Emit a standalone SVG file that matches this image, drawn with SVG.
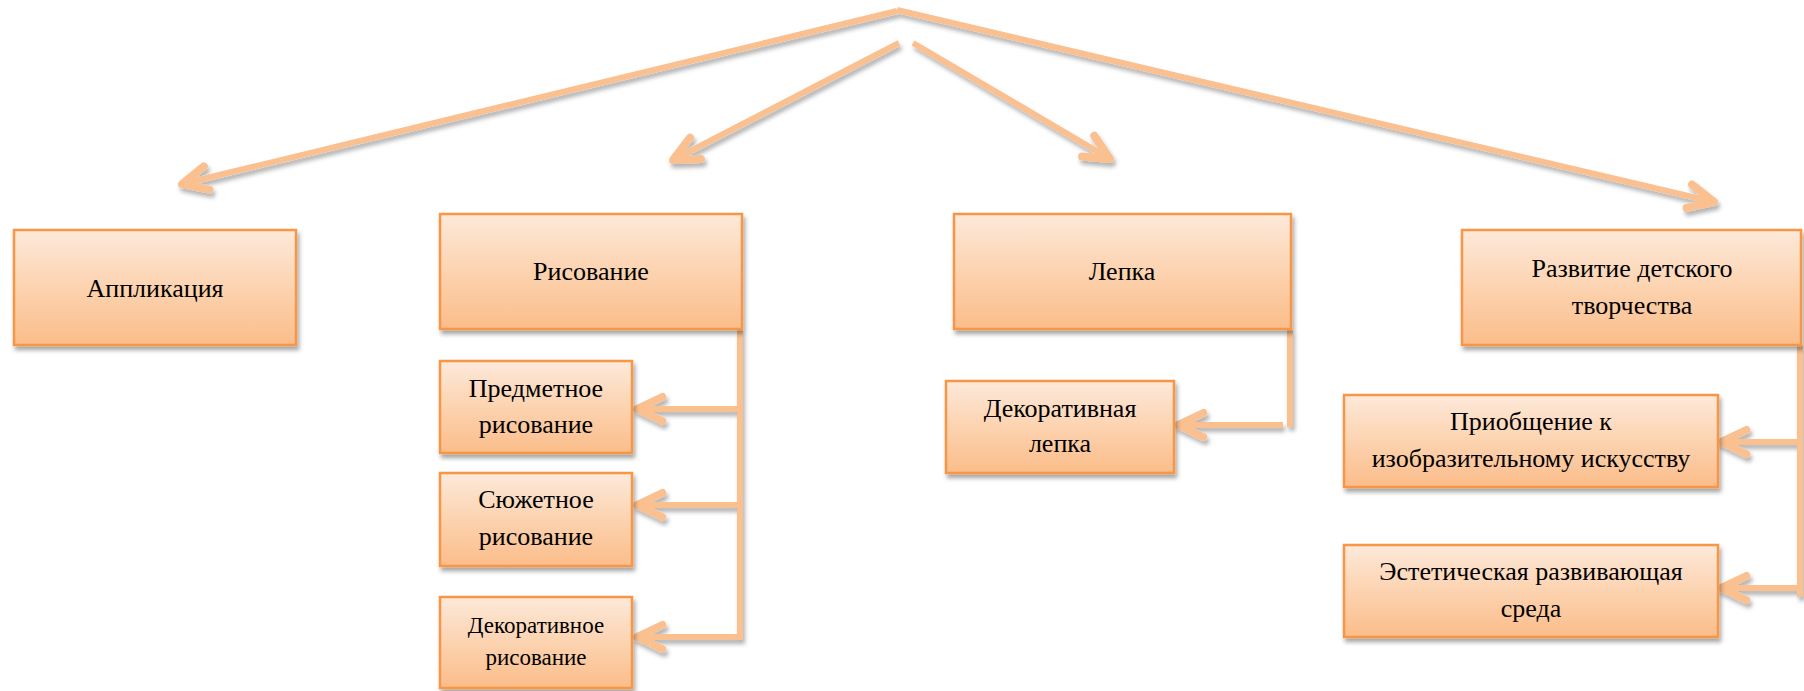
<svg xmlns="http://www.w3.org/2000/svg" width="1804" height="691" viewBox="0 0 1804 691">
<defs>
<linearGradient id="gf" x1="0" y1="0" x2="0" y2="1">
<stop offset="0" stop-color="#FDE9DA"/>
<stop offset="0.5" stop-color="#FCD3B0"/>
<stop offset="1" stop-color="#FBBD8A"/>
</linearGradient>
<filter id="sh" x="-10%" y="-10%" width="125%" height="130%">
<feDropShadow dx="2" dy="4" stdDeviation="2" flood-color="#000" flood-opacity="0.35"/>
</filter>
<filter id="lsh" x="-10%" y="-20%" width="125%" height="150%">
<feDropShadow dx="2" dy="4" stdDeviation="2" flood-color="#000" flood-opacity="0.3"/>
</filter>
<marker id="ah" markerUnits="userSpaceOnUse" orient="auto" refX="0" refY="0" markerWidth="40" markerHeight="40" viewBox="-25 -15 30 30" overflow="visible">
<path d="M-19,-9 L0,0 L-19,9" fill="none" stroke="#FAC090" stroke-width="6" stroke-linecap="round" stroke-linejoin="round"/>
</marker>
</defs>
<style>
.box{fill:url(#gf);stroke:#F79646;stroke-width:2.5;filter:url(#sh)}
.t{font-family:"Liberation Serif","Times New Roman",serif;font-size:26px;fill:#000;text-anchor:middle}
.ts{font-size:23px}
.c{fill:none;stroke:#FAC090;stroke-width:6;stroke-linecap:butt;stroke-linejoin:miter}
.a{marker-end:url(#ah)}
</style>
<rect width="1804" height="691" fill="#fff"/>
<g id="connectors" filter="url(#lsh)">
<path class="c a" d="M897,11 L182,184"/>
<path class="c a" d="M899,43 L673,160"/>
<path class="c a" d="M913,43 L1110,159"/>
<path class="c a" d="M897,10 L1714,202"/>
<path class="c" d="M740,330 V640"/>
<path class="c a" d="M740,409 H637"/>
<path class="c a" d="M740,505 H637"/>
<path class="c a" d="M743,637 H637"/>
<path class="c" d="M1290,330 V427"/>
<path class="c a" d="M1283,425 H1178"/>
<path class="c" d="M1800,345 V597"/>
<path class="c a" d="M1800,442 H1721"/>
<path class="c a" d="M1800,588 H1721"/>
</g>
<g id="n-applikaciya">
<rect class="box" x="14" y="230" width="282" height="115"/>
<text class="t" x="155" y="297">Аппликация</text>
</g>
<g id="n-risovanie">
<rect class="box" x="440" y="214" width="302" height="115"/>
<text class="t" x="591" y="280">Рисование</text>
</g>
<g id="n-lepka">
<rect class="box" x="954" y="214" width="337" height="115"/>
<text class="t" x="1122" y="280">Лепка</text>
</g>
<g id="n-razvitie">
<rect class="box" x="1462" y="230" width="339" height="115"/>
<text class="t" x="1632" y="277">Развитие детского</text>
<text class="t" x="1632" y="314">творчества</text>
</g>
<g id="n-predmetnoe">
<rect class="box" x="440" y="361" width="192" height="92"/>
<text class="t" x="536" y="397">Предметное</text>
<text class="t" x="536" y="433">рисование</text>
</g>
<g id="n-syuzhetnoe">
<rect class="box" x="440" y="473" width="192" height="93"/>
<text class="t" x="536" y="508">Сюжетное</text>
<text class="t" x="536" y="545">рисование</text>
</g>
<g id="n-dekor-ris">
<rect class="box" x="440" y="597" width="192" height="91"/>
<text class="t ts" x="536" y="633">Декоративное</text>
<text class="t ts" x="536" y="665">рисование</text>
</g>
<g id="n-dekor-lepka">
<rect class="box" x="946" y="381" width="228" height="92"/>
<text class="t" x="1060" y="417">Декоративная</text>
<text class="t" x="1060" y="452">лепка</text>
</g>
<g id="n-priobshchenie">
<rect class="box" x="1344" y="395" width="374" height="92"/>
<text class="t" x="1531" y="430">Приобщение к</text>
<text class="t" x="1531" y="467">изобразительному искусству</text>
</g>
<g id="n-esteticheskaya">
<rect class="box" x="1344" y="545" width="374" height="92"/>
<text class="t" x="1531" y="580">Эстетическая развивающая</text>
<text class="t" x="1531" y="617">среда</text>
</g>
</svg>
